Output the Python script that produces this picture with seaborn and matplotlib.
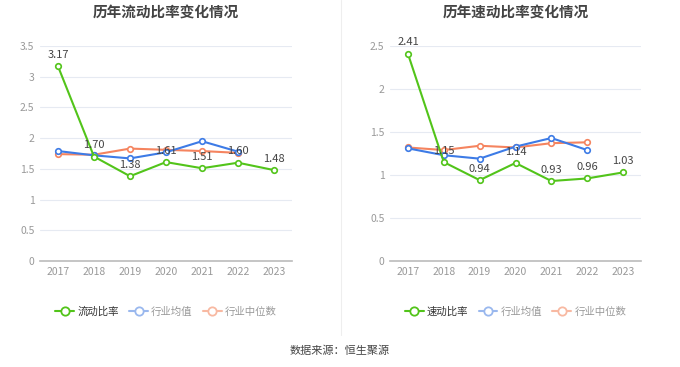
import matplotlib
matplotlib.use("Agg")
import matplotlib.pyplot as plt
from matplotlib.lines import Line2D
import seaborn as sns
import pandas as pd

# Data
years = ["2017", "2018", "2019", "2020", "2021", "2022", "2023"]

current_ratio = [3.17, 1.70, 1.38, 1.61, 1.51, 1.60, 1.48]
current_ind_mean = [1.79, 1.72, 1.67, 1.77, 1.95, 1.78]
current_ind_median = [1.74, 1.73, 1.83, 1.81, 1.79, 1.76]

quick_ratio = [2.41, 1.15, 0.94, 1.14, 0.93, 0.96, 1.03]
quick_ind_mean = [1.31, 1.23, 1.19, 1.33, 1.43, 1.29]
quick_ind_median = [1.32, 1.29, 1.34, 1.32, 1.37, 1.38]

GREEN = "#52c41a"
BLUE = "#3d7be6"
ORANGE = "#f5845f"

sns.set_theme(style="white")
plt.rcParams["font.family"] = ["Noto Sans CJK SC", "DejaVu Sans"]

fig = plt.figure(figsize=(6.8, 3.67), dpi=100)
ax1 = fig.add_axes([40 / 680, 1 - 261 / 367, 252 / 680, 215 / 367])
ax2 = fig.add_axes([390 / 680, 1 - 261 / 367, 251 / 680, 215 / 367])


def draw(ax, main, mean, median, title, name, ymax, yticks, ylabels):
    idx = list(range(len(years)))
    df_main = pd.DataFrame({"x": idx, "y": main})
    df_mean = pd.DataFrame({"x": idx[:len(mean)], "y": mean})
    df_med = pd.DataFrame({"x": idx[:len(median)], "y": median})
    for d, c in [(df_med, ORANGE), (df_mean, BLUE), (df_main, GREEN)]:
        sns.lineplot(data=d, x="x", y="y", ax=ax, color=c, linewidth=1.5,
                     marker="o", markersize=4, markerfacecolor="white",
                     markeredgecolor=c, markeredgewidth=1.2)
    for i, v in enumerate(main):
        ax.annotate(f"{v:.2f}", (i, v), xytext=(0, 4.5), textcoords="offset points",
                    ha="center", va="bottom", fontsize=8, color="#444444")
    ax.set_xlim(-0.5, len(years) - 0.5)
    ax.set_ylim(0, ymax)
    ax.set_xticks(idx)
    ax.set_xticklabels(years)
    ax.set_yticks(yticks)
    ax.set_yticklabels(ylabels)
    ax.set_xlabel("")
    ax.set_ylabel("")
    ax.tick_params(axis="both", labelsize=7.5, colors="#999999", length=0, pad=4)
    ax.grid(axis="y", color="#e6eaf2", linewidth=0.8)
    for s in ["top", "right", "left"]:
        ax.spines[s].set_visible(False)
    ax.spines["bottom"].set_color("#bbbbbb")
    ax.spines["bottom"].set_linewidth(1.2)
    ax.set_title(title, fontsize=10.5, fontweight="bold", color="#444444", pad=21.5)

    handles = [
        Line2D([], [], color=GREEN, marker="o", markersize=6, markerfacecolor="white",
               markeredgewidth=1.3, linewidth=1.5),
        Line2D([], [], color="#9ab8ee", marker="o", markersize=6, markerfacecolor="white",
               markeredgewidth=1.3, linewidth=1.5),
        Line2D([], [], color="#f8b9a2", marker="o", markersize=6, markerfacecolor="white",
               markeredgewidth=1.3, linewidth=1.5),
    ]
    leg = ax.legend(handles, [name, "行业均值", "行业中位数"], loc="center",
                    bbox_to_anchor=(0.5, -0.235), ncol=3, frameon=False, fontsize=7.5,
                    handlelength=1.8, handletextpad=0.3, columnspacing=1.0)
    for t, c in zip(leg.get_texts(), ["#333333", "#999999", "#999999"]):
        t.set_color(c)


draw(ax1, current_ratio, current_ind_mean, current_ind_median,
     "历年流动比率变化情况", "流动比率", 3.5,
     [0, 0.5, 1, 1.5, 2, 2.5, 3, 3.5], ["0", "0.5", "1", "1.5", "2", "2.5", "3", "3.5"])
draw(ax2, quick_ratio, quick_ind_mean, quick_ind_median,
     "历年速动比率变化情况", "速动比率", 2.5,
     [0, 0.5, 1, 1.5, 2, 2.5], ["0", "0.5", "1", "1.5", "2", "2.5"])

fig.add_artist(Line2D([341 / 680, 341 / 680], [1 - 335 / 367, 1.0],
                      color="#eeeeee", linewidth=0.8))
fig.text(0.5, 1 - 351 / 367, "数据来源：恒生聚源", ha="center", va="center",
         fontsize=8, color="#444444")

fig.savefig("out.png", dpi=100)
